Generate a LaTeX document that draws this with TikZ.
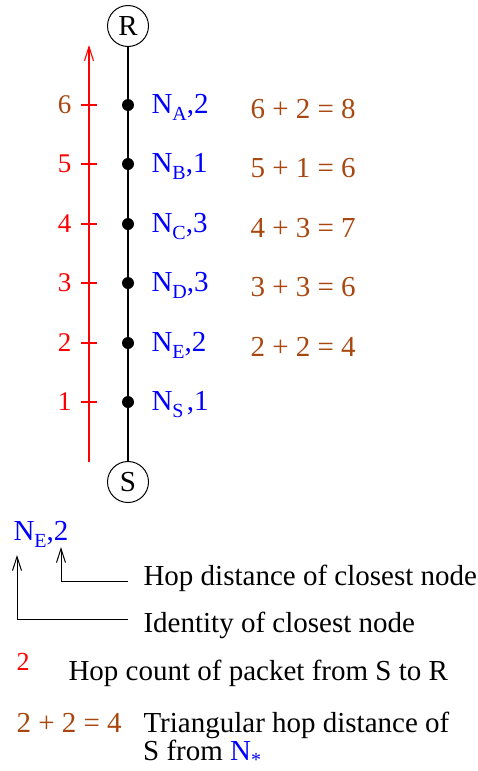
\documentclass[tikz,border=0pt]{standalone}
\usepackage{fontspec}
\setmainfont{Liberation Serif}
\usetikzlibrary{arrows.meta}
\definecolor{brn}{RGB}{168,72,16}
\newcommand\lsub[1]{\raisebox{-0.27em}{\fontsize{20}{20}\selectfont #1}}
\newcommand\lstar{\smash{\raisebox{-0.22em}{\fontsize{20}{20}\selectfont *}}}
\tikzset{
  circ/.style={circle, draw, line width=1pt, minimum size=41pt, inner sep=0pt},
  hopdot/.style={circle, fill=black, inner sep=0pt, minimum size=12pt},
  rednum/.style={anchor=base east, red, font=\fontsize{27}{30}\selectfont},
  bluelab/.style={anchor=base west, blue},
  eqlab/.style={anchor=base west, brn},
  txt/.style={anchor=base west},
  barb/.style={-{Straight Barb[length=14pt,width=9pt]}},
}
\begin{document}
\begin{tikzpicture}[x=1pt,y=-1pt,font=\fontsize{29}{33}\selectfont]
\useasboundingbox (0,0) rectangle (478,771);
\node[circ] (R) at (128,26) {R};
\node[circ] (S) at (128,482) {S};
\draw[line width=1.2pt] (R) -- (S);
% red axis
\coordinate (ab) at (89,462);
\coordinate (at) at (89,45);
\draw[red, line width=1.1pt, barb] (ab) -- (at);
\foreach \y/\n/\c/\nm/\lab/\h/\eq in {105/6/brn/A/A/2/{6 + 2 = 8}, 164/5/red/B/B/1/{5 + 1 = 6}, 224/4/red/C/C/3/{4 + 3 = 7}, 283/3/red/D/D/3/{3 + 3 = 6}, 343/2/red/E/E/2/{2 + 2 = 4}, 402/1/red/S/S\,/1/{}} {
  \node[hopdot] (d\nm) at (128,\y) {};
  \coordinate (tl\nm) at (81,\y);
  \coordinate (tr\nm) at (97,\y);
  \draw[red, line width=1.1pt] (tl\nm) -- (tr\nm);
  \node[rednum, text=\c] (n\nm) at (75,\y+8.5) {\n};
  \node[bluelab] (l\nm) at (148,\y+8) {N\lsub{\lab},\h};
  \node[eqlab] (e\nm) at (247,\y+13) {\eq};
}
% legend
\node[bluelab] (leg) at (10,540) {N\lsub{E},2};
\coordinate (i1) at (128,619);
\coordinate (i1t) at (17,555);
\draw[line width=1pt, barb] (i1) -| (i1t);
\node[txt] (ti) at (140,632) {Identity of closest node};
\coordinate (h1) at (128,581);
\coordinate (h1t) at (61,547);
\draw[line width=1pt, barb] (h1) -| (h1t);
\node[txt] (th) at (140,585) {Hop distance of closest node};
\node[anchor=base west, red, font=\fontsize{26}{28}\selectfont] (r2) at (13,670) {2};
\node[txt] (tc) at (65,680) {Hop count of packet from S to R};
\node[eqlab] (e2) at (13,732) {2 + 2 = 4};
\node[txt] (tt) at (140,732) {Triangular hop distance of};
\node[txt, inner sep=0pt] (ts) at (143,760) {S from \textcolor{blue}{N\lstar}};
\end{tikzpicture}
\end{document}
